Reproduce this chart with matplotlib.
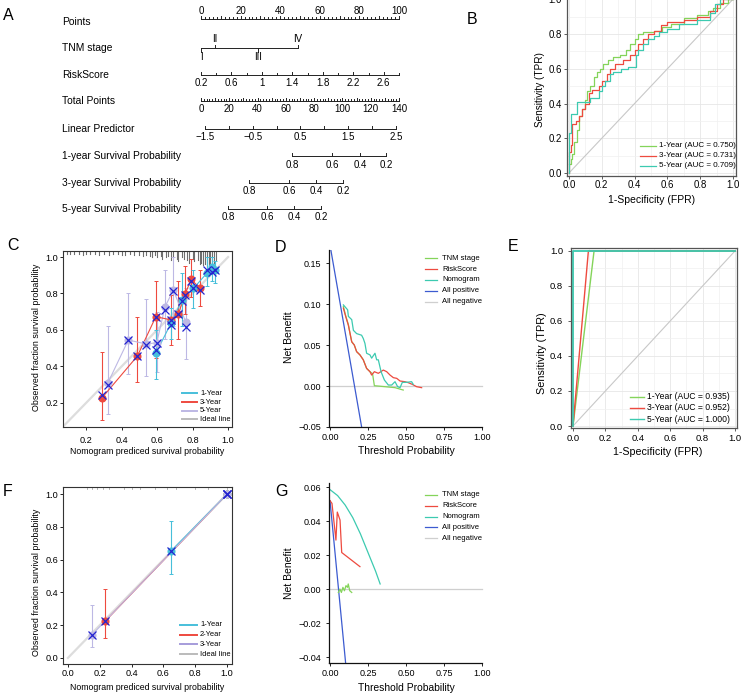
import numpy as np
import matplotlib
matplotlib.use("Agg")
import matplotlib.pyplot as plt
from matplotlib.lines import Line2D

plt.rcParams['font.family'] = ['Liberation Sans', 'DejaVu Sans']

W, H = 743, 696

# ---------------- data ----------------
# A: nomogram
row_names = ["Points", "TNM stage", "RiskScore", "Total Points", "Linear Predictor",
             "1-year Survival Probability", "3-year Survival Probability",
             "5-year Survival Probability"]
tnm_stages = ["I", "II", "III", "IV"]
tnm_points = [0, 7, 29, 49]
risk_min, risk_max = 0.2, 2.8
total_max = 140
lp_ticks = [-1.5, -1, -0.5, 0, 0.5, 1, 1.5, 2, 2.5]
lp_labels = ["-1.5", "-0.5", "0.5", "1.5", "2.5"]
lp_total_ends = [2.8, 137.9]          # total points at lp = -1.5 and 2.5
surv_ticks = ["0.8", "0.6", "0.4", "0.2"]
surv1_total = [64.3, 92.6, 112.4, 130.8]
surv3_total = [33.9, 62.2, 81.3, 100.4]
surv5_total = [19.1, 46.7, 65.8, 84.8]

# B: ROC
roc1_fpr = [0, 0.01, 0.02, 0.03, 0.05, 0.06, 0.08, 0.10, 0.11, 0.13, 0.15, 0.17, 0.19, 0.21, 0.24,
            0.27, 0.31, 0.35, 0.37, 0.40, 0.42, 0.45, 0.52, 0.57, 0.62, 0.70, 0.78, 0.85, 0.88, 0.92, 0.97, 1.0]
roc1_tpr = [0.05, 0.08, 0.11, 0.18, 0.25, 0.33, 0.37, 0.42, 0.47, 0.50, 0.55, 0.58, 0.60, 0.63, 0.65,
            0.67, 0.68, 0.71, 0.74, 0.77, 0.80, 0.81, 0.82, 0.84, 0.86, 0.89, 0.91, 0.93, 0.95, 0.98, 1.0, 1.0]
roc3_fpr = [0, 0.0, 0.01, 0.02, 0.04, 0.06, 0.08, 0.10, 0.12, 0.14, 0.18, 0.20, 0.23, 0.25, 0.28, 0.33,
            0.37, 0.40, 0.42, 0.45, 0.48, 0.52, 0.56, 0.60, 0.70, 0.78, 0.86, 0.90, 0.94, 1.0]
roc3_tpr = [0.0, 0.12, 0.16, 0.28, 0.30, 0.33, 0.37, 0.40, 0.46, 0.48, 0.50, 0.53, 0.57, 0.60, 0.63, 0.65,
            0.68, 0.71, 0.74, 0.77, 0.80, 0.82, 0.85, 0.87, 0.88, 0.90, 0.93, 0.97, 1.0, 1.0]
roc5_fpr = [0, 0.0, 0.01, 0.05, 0.13, 0.18, 0.20, 0.22, 0.25, 0.27, 0.32, 0.36, 0.41, 0.42, 0.45, 0.48,
            0.52, 0.55, 0.60, 0.67, 0.78, 0.86, 0.89, 0.92, 1.0]
roc5_tpr = [0.0, 0.23, 0.34, 0.41, 0.43, 0.47, 0.50, 0.53, 0.57, 0.58, 0.60, 0.61, 0.68, 0.71, 0.74, 0.77,
            0.79, 0.81, 0.83, 0.86, 0.88, 0.92, 0.97, 1.0, 1.0]
roc_labels_b = ["1-Year (AUC = 0.750)", "3-Year (AUC = 0.731)", "5-Year (AUC = 0.709)"]

# C: calibration
c1_x = [0.593, 0.68, 0.74, 0.805, 0.88, 0.908, 0.927]
c1_y = [0.472, 0.64, 0.764, 0.828, 0.911, 0.947, 0.929]
c1_lo = [0.33, 0.55, 0.62, 0.72, 0.84, 0.87, 0.86]
c1_hi = [0.60, 0.72, 0.91, 0.93, 1.00, 1.00, 0.98]
c1_xc = [0.49, 0.63, 0.76, 0.83, 0.93, 0.92, 0.93]
c3_x = [0.288, 0.489, 0.593, 0.679, 0.72, 0.758, 0.792, 0.842]
c3_y = [0.226, 0.457, 0.673, 0.655, 0.688, 0.797, 0.878, 0.828]
c3_lo = [0.107, 0.317, 0.445, 0.52, 0.55, 0.69, 0.78, 0.73]
c3_hi = [0.478, 0.673, 0.868, 0.79, 0.87, 0.95, 0.99, 0.93]
c3_xc = [0.245, 0.455, 0.67, 0.655, 0.685, 0.79, 0.87, 0.82]
c5_x = [0.322, 0.438, 0.538, 0.598, 0.645, 0.692, 0.762]
c5_y = [0.308, 0.545, 0.523, 0.53, 0.728, 0.819, 0.642]
c5_lo = [0.14, 0.36, 0.35, 0.37, 0.55, 0.62, 0.44]
c5_hi = [0.62, 0.80, 0.77, 0.70, 0.93, 1.0, 0.83]
c5_xc = [0.30, 0.545, 0.52, 0.53, 0.71, 0.815, 0.615]
rugC_x = [0.09, 0.11, 0.13, 0.16, 0.18, 0.2, 0.22, 0.25, 0.27, 0.3, 0.33, 0.35, 0.38, 0.4, 0.42, 0.45,
          0.47, 0.5, 0.52, 0.54, 0.56, 0.57, 0.59, 0.6, 0.62, 0.63, 0.65, 0.66, 0.68, 0.69, 0.71, 0.72,
          0.74, 0.75, 0.77, 0.78, 0.8, 0.81, 0.83, 0.84, 0.85, 0.86, 0.87, 0.88, 0.89, 0.9, 0.91, 0.92, 0.93]
rugC_h = [2, 2, 2, 2, 3, 2, 2, 2, 3, 2, 3, 2, 2, 3, 3, 2, 3, 3, 4, 3, 4, 5, 3, 5, 4, 6, 5, 4, 7, 5, 6, 8,
          5, 6, 7, 9, 6, 8, 7, 10, 9, 11, 10, 12, 11, 10, 12, 9, 7]

# D: decision curve
d_nomo_t = [0.088, 0.116, 0.121, 0.143, 0.154, 0.175, 0.208, 0.219, 0.230, 0.241, 0.263, 0.274, 0.296,
            0.307, 0.318, 0.336, 0.358, 0.384, 0.406, 0.428, 0.445, 0.461, 0.476, 0.504, 0.537, 0.548]
d_nomo_v = [0.099, 0.093, 0.085, 0.081, 0.068, 0.064, 0.062, 0.058, 0.052, 0.040, 0.038, 0.034, 0.040,
            0.032, 0.032, 0.0175, 0.0073, 0.0012, 0.0012, 0.0053, -0.0008, -0.002, 0.0045, 0.0045, 0.0053, 0.002]
d_risk_t = [0.088, 0.103, 0.121, 0.132, 0.143, 0.160, 0.175, 0.197, 0.219, 0.241, 0.263, 0.274, 0.292,
            0.318, 0.351, 0.373, 0.395, 0.417, 0.439, 0.461, 0.493, 0.515, 0.542, 0.570, 0.603]
d_risk_v = [0.095, 0.085, 0.074, 0.064, 0.054, 0.050, 0.042, 0.038, 0.032, 0.0215, 0.0175, 0.0134, 0.0175,
            0.0155, 0.0195, 0.0175, 0.0134, 0.0102, 0.0094, 0.0061, 0.0053, 0.0041, 0.002, -0.0008, -0.002]
d_tnm_t = [0.088, 0.103, 0.121, 0.132, 0.143, 0.160, 0.175, 0.197, 0.219, 0.241, 0.263, 0.280, 0.292,
           0.362, 0.428, 0.482]
d_tnm_v = [0.097, 0.086, 0.075, 0.064, 0.054, 0.050, 0.042, 0.038, 0.032, 0.0215, 0.0175, 0.015, 0.0004,
           -0.0008, -0.002, -0.0049]
d_all_t = [0.0, 0.21]
d_all_v = [0.172, -0.052]

# E: ROC (validation)
e1_fpr, e1_tpr = [0, 0.13, 1.0], [0, 1, 1]
e3_fpr, e3_tpr = [0, 0.095, 1.0], [0, 1, 1]
e5_fpr, e5_tpr = [0, 0, 1.0], [0, 1, 1]
roc_labels_e = ["1-Year (AUC = 0.935)", "3-Year (AUC = 0.952)", "5-Year (AUC = 1.000)"]

# F: calibration (validation)
f1_x, f1_y, f1_lo, f1_hi = [0.65, 1.0], [0.655, 1.0], [0.515, 1.0], [0.835, 1.0]
f2_x, f2_y, f2_lo, f2_hi = [0.235, 1.0], [0.225, 1.0], [0.12, 1.0], [0.42, 1.0]
f3_x, f3_y, f3_lo, f3_hi = [0.15, 1.0], [0.14, 1.0], [0.065, 1.0], [0.32, 1.0]
rugF_x = [0.12, 0.15, 0.18, 0.22, 0.26, 0.35, 0.4, 0.45, 0.55, 0.62, 0.68, 0.8, 0.88, 1.0]

# G: decision curve (validation)
g_nomo_t = [0.0, 0.05, 0.1, 0.15, 0.2, 0.25, 0.3, 0.33]
g_nomo_v = [0.0585, 0.055, 0.0494, 0.042, 0.0325, 0.0215, 0.0105, 0.003]
g_risk_t = [0.0, 0.013, 0.039, 0.048, 0.066, 0.077, 0.197]
g_risk_v = [0.052, 0.0504, 0.0288, 0.0453, 0.0406, 0.0215, 0.0132]
g_tnm_t = [0.055, 0.065, 0.075, 0.085, 0.095, 0.105, 0.115, 0.12, 0.13, 0.143]
g_tnm_v = [-0.002, 0.0, -0.002, 0.001, -0.001, 0.002, 0.001, 0.003, -0.001, -0.002]
g_all_t = [0.0, 0.103]
g_all_v = [0.052, -0.0437]

GREEN = '#84D45A'
RED = '#EE4A3F'
TEAL = '#3CCAB0'
CYAN = '#47BFDA'
LAV = '#BDB8E4'
BLUE = '#3C5BD0'
XBLUE = '#2424D0'
GREY = '#CFCFCF'

fig = plt.figure(figsize=(W / 100, H / 100), dpi=100)


def box(l, t, r, b):
    return fig.add_axes([l / W, 1 - b / H, (r - l) / W, (b - t) / H])


def ftext(x, y, s, **kw):
    fig.text(x / W, 1 - y / H, s, **kw)


def legend_at(labels, colors, x0, x1, xt, y0, dy, fs, lw):
    for i, (lab, col) in enumerate(zip(labels, colors)):
        y = 1 - (y0 + i * dy) / H
        fig.add_artist(Line2D([x0 / W, x1 / W], [y, y], color=col, lw=lw))
        fig.text(xt / W, y, lab, va='center', ha='left', fontsize=fs)


# ---------------- A ----------------
axA = box(0, 0, 480, 230)
pp = lambda px: (px - 201) / 1.98
axA.set_xlim(pp(0), pp(480))
axA.set_ylim(230, 0)
axA.axis('off')
rows_y = [19, 48, 75, 101, 129, 156, 183, 209]
for name, y in zip(row_names, rows_y):
    axA.text(pp(62), y + (3 if name == "Points" else 0), name, fontsize=7.4, va='center', ha='left')
kw = dict(color='#222222', lw=0.7)
tfs = 7.0

# points
y = rows_y[0]
axA.plot([0, 100], [y, y], **kw)
for v in range(0, 101, 2):
    axA.plot([v, v], [y, y - (3 if v % 10 == 0 else 1.8)], **kw)
for v in range(0, 101, 20):
    axA.text(v, y - 3.2, str(v), fontsize=tfs, ha='center', va='bottom')

# TNM stage
y = rows_y[1]
axA.plot([tnm_points[0], tnm_points[-1]], [y, y], **kw)
for i, (s, v) in enumerate(zip(tnm_stages, tnm_points)):
    up = i % 2 == 1
    axA.plot([v, v], [y, y - 3.5 if up else y + 3.5], **kw)
    axA.text(v, y - 4.2 if up else y + 4.2, s, fontsize=tfs, ha='center',
             va='bottom' if up else 'top')

# RiskScore
y = rows_y[2]
risk_ticks = np.round(np.arange(risk_min, risk_max + 0.01, 0.2), 1)
r2p = lambda r: (r - risk_min) / (risk_max - risk_min) * 100
axA.plot([0, 100], [y, y], **kw)
for i, r in enumerate(risk_ticks):
    axA.plot([r2p(r), r2p(r)], [y, y - (3 if i % 2 == 0 else 2.2)], **kw)
    if i % 2 == 0 and r < 2.7:
        axA.text(r2p(r), y + 3.5, ('%g' % r), fontsize=tfs, ha='center', va='top')

# Total points
y = rows_y[3]
t2p = lambda t: t / total_max * 100
axA.plot([0, 100], [y, y], **kw)
for v in range(0, total_max + 1, 2):
    axA.plot([t2p(v), t2p(v)], [y, y - (3 if v % 10 == 0 else 2)], **kw)
for v in range(0, total_max + 1, 20):
    axA.text(t2p(v), y + 3.5, str(v), fontsize=tfs, ha='center', va='top')

# Linear predictor
y = rows_y[4]
l2p = lambda l: t2p(lp_total_ends[0] + (l - lp_ticks[0]) / (lp_ticks[-1] - lp_ticks[0])
                    * (lp_total_ends[1] - lp_total_ends[0]))
axA.plot([l2p(lp_ticks[0]), l2p(lp_ticks[-1])], [y, y], **kw)
for l in lp_ticks:
    axA.plot([l2p(l), l2p(l)], [y, y - 3], **kw)
for s in lp_labels:
    axA.text(l2p(float(s)), y + 3.5, s.replace('-', '\u2212'), fontsize=tfs, ha='center', va='top')

# Survival rows
for y, tot in zip(rows_y[5:], [surv1_total, surv3_total, surv5_total]):
    xs = [t2p(t) for t in tot]
    axA.plot([xs[0], xs[-1]], [y, y], **kw)
    for x, s in zip(xs, surv_ticks):
        axA.plot([x, x], [y, y - 3], **kw)
        axA.text(x, y + 3.5, s, fontsize=tfs, ha='center', va='top')


def roc_axes(ax, fs):
    ax.set_xticks(np.arange(0, 1.01, 0.2))
    ax.set_yticks(np.arange(0, 1.01, 0.2))
    ax.set_xticks(np.arange(0.1, 1, 0.2), minor=True)
    ax.set_yticks(np.arange(0.1, 1, 0.2), minor=True)
    ax.set_xticklabels(['%.1f' % v for v in np.arange(0, 1.01, 0.2)])
    ax.set_yticklabels(['%.1f' % v for v in np.arange(0, 1.01, 0.2)])
    ax.grid(which='major', color='#E6E6E6', lw=0.6)
    ax.grid(which='minor', color='#F0F0F0', lw=0.5)
    ax.tick_params(which='minor', length=0)
    ax.tick_params(which='major', labelsize=fs, length=2, color='#444444', width=0.6)
    ax.set_axisbelow(True)
    for sp in ax.spines.values():
        sp.set_color('#555555')
        sp.set_linewidth(0.9)
    ax.plot([0, 1], [0, 1], color='#C8C8C8', lw=0.8)


# ---------------- B ----------------
axB = box(567, -3, 736, 176)
axB.set_xlim(-0.0122, 1.0183)
axB.set_ylim(-0.0173, 1.013)
roc_axes(axB, 6.9)
axB.tick_params(axis='y', pad=1.6)
axB.tick_params(axis='x', pad=0.8)
axB.step(roc1_fpr, roc1_tpr, where='post', color=GREEN, lw=0.9)
axB.step(roc3_fpr, roc3_tpr, where='post', color=RED, lw=0.9)
axB.step(roc5_fpr, roc5_tpr, where='post', color=TEAL, lw=0.9)
ftext(540, 90, "Sensitivity (TPR)", rotation=90, ha='center', va='center', fontsize=7.2)
ftext(652, 200, "1-Specificity (FPR)", ha='center', va='center', fontsize=7.5)
legend_at(roc_labels_b, [GREEN, RED, TEAL], 640, 656, 659, 145.7, 10, 5.8, 0.9)


def cal_axes(ax, xpad):
    ax.tick_params(labelsize=6.6, length=2, width=0.6)
    ax.tick_params(axis='y', pad=1.5)
    ax.tick_params(axis='x', pad=xpad)
    for sp in ax.spines.values():
        sp.set_color('#333333')
        sp.set_linewidth(0.8)
    ax.plot([0, 1], [0, 1], color='#DDDDDD', lw=1.6, zorder=1)


def cal_series(ax, x, y, lo, hi, xc, col):
    ax.errorbar(x, y, yerr=[np.array(y) - np.array(lo), np.array(hi) - np.array(y)], fmt='none',
                ecolor=col, elinewidth=0.8, capsize=1.5, capthick=0.7, zorder=2)
    ax.plot(x, y, color=col, lw=0.8, zorder=2.5)
    ax.plot(x, y, ls='none', marker='o', ms=4.8, mec=col, color=col, zorder=3)
    ax.plot(x, xc, ls='none', marker='x', ms=5.3, mew=0.9, color=XBLUE, zorder=4)


# ---------------- C ----------------
axC = box(63, 251, 232, 427)
axC.set_xlim(0.070, 1.022)
axC.set_ylim(0.068, 1.033)
cal_axes(axC, 4.5)
axC.set_xticks([0.2, 0.4, 0.6, 0.8, 1.0])
axC.set_yticks([0.2, 0.4, 0.6, 0.8, 1.0])
axC.set_xticklabels(['0.2', '0.4', '0.6', '0.8', '1.0'])
axC.set_yticklabels(['0.2', '0.4', '0.6', '0.8', '1.0'])
for x, h in zip(rugC_x, rugC_h):
    axC.plot([x, x], [1.033, 1.033 - 1.3 * h / 182.5], color='#6E6E6E', lw=0.8, zorder=1)
cal_series(axC, c5_x, c5_y, c5_lo, c5_hi, c5_xc, LAV)
cal_series(axC, c3_x, c3_y, c3_lo, c3_hi, c3_xc, RED)
cal_series(axC, c1_x, c1_y, c1_lo, c1_hi, c1_xc, CYAN)
ftext(37, 337, "Observed fraction survival probability", rotation=90, ha='center', va='center', fontsize=6.4)
ftext(147, 452, "Nomogram prediced survival probability", ha='center', va='center', fontsize=6.3)
legend_at(["1-Year", "3-Year", "5-Year", "Ideal line"], [CYAN, RED, LAV, '#BBBBBB'],
          182, 197, 200, 393.3, 8.7, 5.4, 1.4)


def dca_axes(ax):
    ax.spines['top'].set_visible(False)
    ax.spines['right'].set_visible(False)
    for sp in ('left', 'bottom'):
        ax.spines[sp].set_linewidth(0.9)
        ax.spines[sp].set_color('#111111')
    ax.spines['bottom'].set_bounds(ax.get_xlim()[0], 1.0)
    ax.set_xticks([0, 0.25, 0.5, 0.75, 1.0])
    ax.set_xticklabels(['0.00', '0.25', '0.50', '0.75', '1.00'])
    ax.tick_params(labelsize=6.5, length=2, width=0.6)
    ax.tick_params(axis='y', pad=3.7)
    ax.tick_params(axis='x', pad=2.3)


# ---------------- D ----------------
axD = box(329, 250, 490, 427)
axD.set_xlim(-0.0066, 1.053)
axD.set_ylim(-0.05, 0.166)
dca_axes(axD)
axD.set_yticks([-0.05, 0, 0.05, 0.10, 0.15])
axD.set_yticklabels(['\u22120.05', '0.00', '0.05', '0.10', '0.15'])
axD.plot([0, 1], [0, 0], color=GREY, lw=0.9)
axD.plot(d_all_t, d_all_v, color=BLUE, lw=0.9)
axD.plot(d_tnm_t, d_tnm_v, color=GREEN, lw=0.9)
axD.plot(d_risk_t, d_risk_v, color=RED, lw=0.9)
axD.plot(d_nomo_t, d_nomo_v, color=TEAL, lw=0.9)
ftext(289, 337, "Net Benefit", rotation=90, ha='center', va='center', fontsize=7.5)
ftext(406, 451, "Threshold Probability", ha='center', va='center', fontsize=7.4)
dca_labels = ["TNM stage", "RiskScore", "Nomogram", "All positive", "All negative"]
dca_colors = [GREEN, RED, TEAL, BLUE, GREY]
legend_at(dca_labels, dca_colors, 425, 437, 442, 258.3, 10.8, 5.5, 0.9)

# ---------------- E ----------------
axE = box(571, 248, 737, 428)
axE.set_xlim(-0.0123, 1.0123)
axE.set_ylim(-0.0114, 1.017)
roc_axes(axE, 6.8)
axE.tick_params(axis='y', pad=3.7)
axE.tick_params(axis='x', pad=2)
axE.plot(e1_fpr, e1_tpr, color=GREEN, lw=1.0)
axE.plot(e3_fpr, e3_tpr, color=RED, lw=1.0)
axE.plot(e5_fpr, e5_tpr, color=TEAL, lw=1.3)
ftext(542, 353, "Sensitivity (TPR)", rotation=90, ha='center', va='center', fontsize=7.8)
ftext(658, 452, "1-Specificity (FPR)", ha='center', va='center', fontsize=7.7)
legend_at(roc_labels_e, [GREEN, RED, TEAL], 630, 644, 647, 396.7, 11.3, 6.2, 1.0)

# ---------------- F ----------------
axF = box(63, 487, 232, 664)
axF.set_xlim(-0.031, 1.031)
axF.set_ylim(-0.037, 1.043)
cal_axes(axF, 1.6)
axF.set_xticks([0, 0.2, 0.4, 0.6, 0.8, 1.0])
axF.set_yticks([0, 0.2, 0.4, 0.6, 0.8, 1.0])
axF.set_xticklabels(['0.0', '0.2', '0.4', '0.6', '0.8', '1.0'])
axF.set_yticklabels(['0.0', '0.2', '0.4', '0.6', '0.8', '1.0'])
for x in rugF_x:
    axF.plot([x, x], [1.043, 1.043 - 2 / 164], color='#AAAAAA', lw=0.6, zorder=1)
cal_series(axF, f2_x, f2_y, f2_lo, f2_hi, f2_y, RED)
cal_series(axF, f1_x, f1_y, f1_lo, f1_hi, f1_y, CYAN)
cal_series(axF, f3_x, f3_y, f3_lo, f3_hi, f3_y, LAV)
ftext(37, 582, "Observed fraction survival probability", rotation=90, ha='center', va='center', fontsize=6.4)
ftext(147, 688, "Nomogram prediced survival probability", ha='center', va='center', fontsize=6.3)
legend_at(["1-Year", "2-Year", "3-Year", "Ideal line"], [CYAN, RED, '#A69CDB', '#BBBBBB'],
          180, 197, 200, 625, 9.7, 5.4, 1.4)

# ---------------- G ----------------
axG = box(329, 483, 490, 663)
axG.set_xlim(-0.0066, 1.053)
axG.set_ylim(-0.0435, 0.0624)
dca_axes(axG)
axG.set_yticks([-0.04, -0.02, 0, 0.02, 0.04, 0.06])
axG.set_yticklabels(['\u22120.04', '\u22120.02', '0.00', '0.02', '0.04', '0.06'])
axG.plot([0, 1], [0, 0], color=GREY, lw=0.9)
axG.plot(g_all_t, g_all_v, color=BLUE, lw=0.9)
axG.plot(g_tnm_t, g_tnm_v, color=GREEN, lw=0.9)
axG.plot(g_risk_t, g_risk_v, color=RED, lw=0.9)
axG.plot(g_nomo_t, g_nomo_v, color=TEAL, lw=0.9)
ftext(289, 573, "Net Benefit", rotation=90, ha='center', va='center', fontsize=7.5)
ftext(406, 688, "Threshold Probability", ha='center', va='center', fontsize=7.4)
legend_at(dca_labels, dca_colors, 425, 437, 442, 495, 10.8, 5.5, 0.9)

# panel letters
for s, x, y in [("A", 8, 16), ("B", 472, 20), ("C", 13, 245), ("D", 281, 248),
                ("E", 513, 247), ("F", 8, 491), ("G", 282, 492)]:
    ftext(x, y, s, ha='center', va='center', fontsize=11.5)

fig.savefig("out.png", dpi=100)
